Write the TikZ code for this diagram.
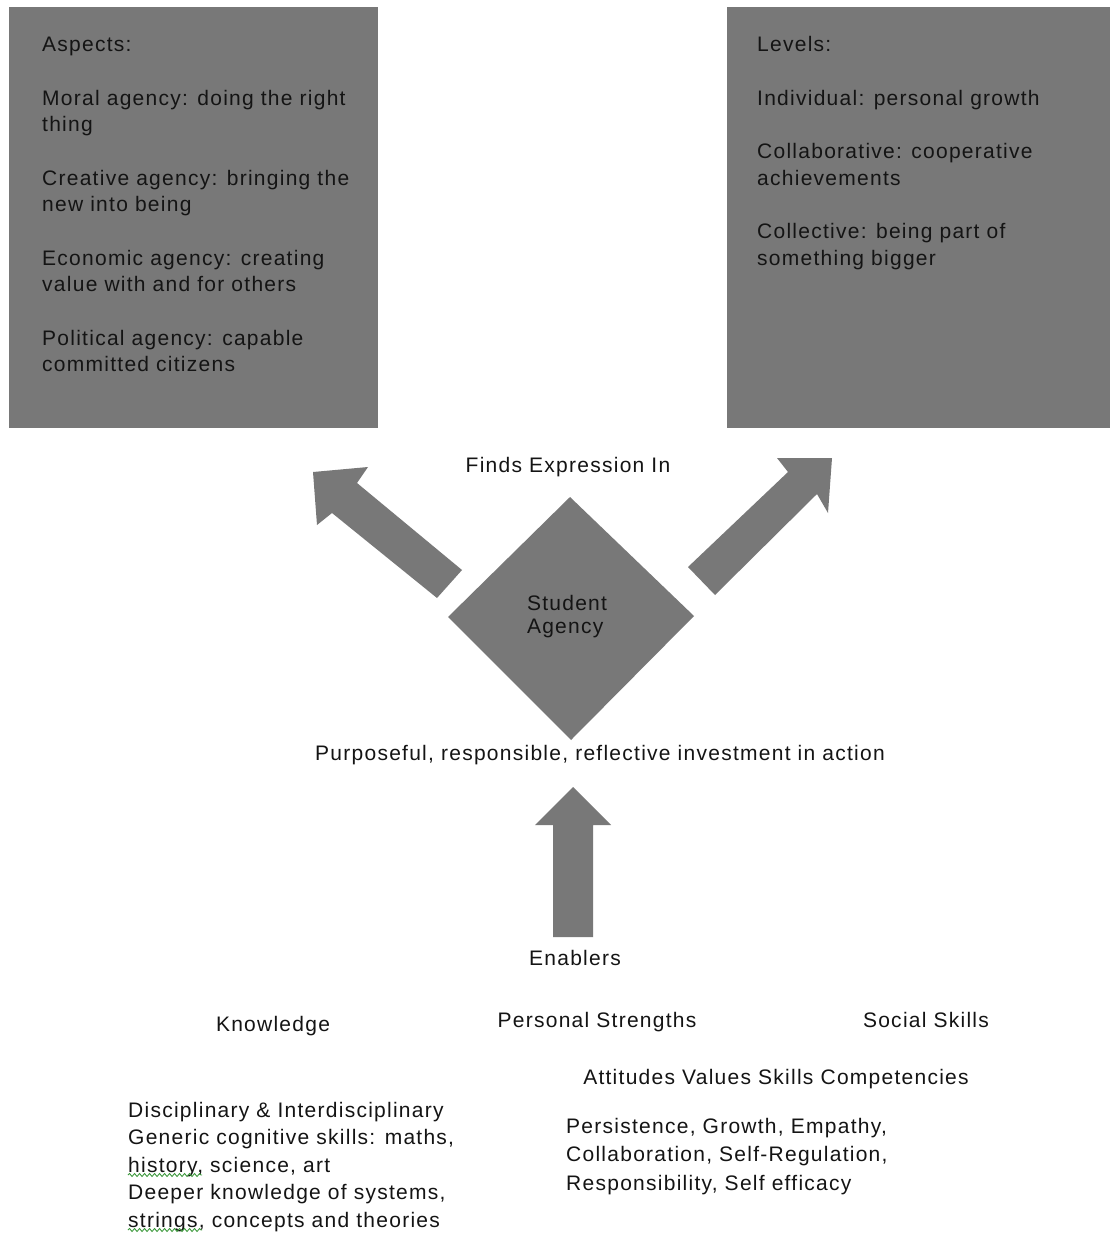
\documentclass[tikz,border=0pt]{standalone}
\usepackage{fontspec}
\setmainfont{Liberation Sans}[LetterSpace=6]
\usetikzlibrary{shapes.geometric,decorations.pathmorphing}
\definecolor{panel}{HTML}{787878}
\definecolor{ink}{HTML}{141414}
\definecolor{spell}{HTML}{3E9A3E}
\begin{document}
\begin{tikzpicture}[x=1pt,y=-1pt,
  txt/.style={font=\fontsize{21}{26.5}\selectfont, text=ink, inner sep=0pt},
  panelbox/.style={fill=panel, draw=none, inner sep=0pt, anchor=north west},
  blockarrow/.style={fill=panel, draw=none},
  squiggle/.style={draw=spell, line width=0.9pt, decorate,
    decoration={snake, amplitude=1.5pt, segment length=5pt}}]
\useasboundingbox (0,0) rectangle (1110,1233);
\fill[white] (0,0) rectangle (1110,1233);

% two grey panels
\node[panelbox, minimum width=369pt, minimum height=421pt] (aspects) at (9,7) {};
\node[panelbox, minimum width=383pt, minimum height=421pt] (levels) at (727,7) {};

\node[txt, anchor=base west] (aspectstext) at (42,52) {\begin{tabular}[t]{@{}l@{}}
Aspects:\\[27pt]
Moral agency: doing the right\\
thing\\[27pt]
Creative agency: bringing the\\
new into being\\[27pt]
Economic agency: creating\\
value with and for others\\[27pt]
Political agency: capable\\
committed citizens
\end{tabular}};

\node[txt, anchor=base west] (levelstext) at (757,52) {\begin{tabular}[t]{@{}l@{}}
Levels:\\[27pt]
Individual: personal growth\\[27pt]
Collaborative: cooperative\\
achievements\\[27pt]
Collective: being part of\\
something bigger
\end{tabular}};

% central diamond
\fill[panel] (570,497) -- (694,616) -- (571,740) -- (448,617) -- cycle;
\node[txt, anchor=base] (agency) at (567,610) {\begin{tabular}[t]{@{}l@{}}
Student\\[-3.5pt]
Agency
\end{tabular}};

% block arrows
\fill[blockarrow] (313,472) -- (368,467) -- (357,483) -- (462,570) -- (437,598)
  -- (332,513) -- (317,525) -- cycle;
\fill[blockarrow] (832,458) -- (828,513) -- (817,494) -- (715,595) -- (688,567)
  -- (788,472) -- (777,458) -- cycle;
\fill[blockarrow] (573,787) -- (611,825) -- (593,825) -- (593,937) -- (553,937)
  -- (553,825) -- (535,825) -- cycle;

% labels
\node[txt, anchor=base] (finds) at (568,472) {Finds Expression In};
\node[txt, anchor=base] (purpose) at (600,760) {Purposeful, responsible, reflective investment in action};
\node[txt, anchor=base] (enablers) at (575,965) {Enablers};
\node[txt, anchor=base] (knowledge) at (273,1031) {Knowledge};
\node[txt, anchor=base] (strengths) at (597,1027) {Personal Strengths};
\node[txt, anchor=base] (social) at (926,1027) {Social Skills};
\node[txt, anchor=base] (attitudes) at (776,1084) {Attitudes Values Skills Competencies};

\node[txt, anchor=base west] (knowlist) at (128,1117) {\begin{tabular}[t]{@{}l@{}}
Disciplinary \& Interdisciplinary\\[1pt]
Generic cognitive skills: maths,\\[1pt]
history, science, art\\[1pt]
Deeper knowledge of systems,\\[1pt]
strings, concepts and theories
\end{tabular}};

\node[txt, anchor=base west] (strengthlist) at (566,1133) {\begin{tabular}[t]{@{}l@{}}
Persistence, Growth, Empathy,\\[2pt]
Collaboration, Self-Regulation,\\[2pt]
Responsibility, Self efficacy
\end{tabular}};

% spell-check underlines
\coordinate (h1) at (128,1175);
\coordinate (h2) at (202,1175);
\coordinate (s1) at (128,1230);
\coordinate (s2) at (202,1230);
\draw[squiggle] (h1) -- (h2);
\draw[squiggle] (s1) -- (s2);
\end{tikzpicture}
\end{document}
